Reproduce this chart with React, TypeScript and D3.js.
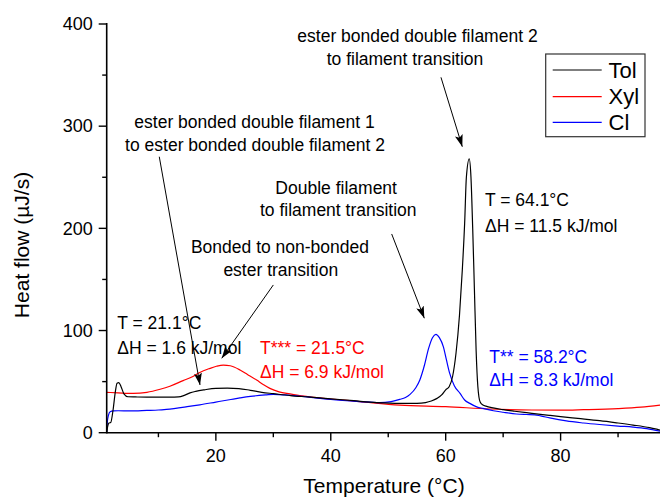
import React from "react";
import * as d3 from "d3";

// ---------- data ----------
const tolTemp = [1.0,1.2,1.4,1.7,2.1,2.5,2.8,3.1,3.5,4.0,4.7,6,8,10,12,13.5,14.5,15.5,16.5,18,20,22,24,26,28,30,33,36,40,44,48,52,55,56.5,57.5,58.5,59.3,60,60.6,61.2,61.8,62.4,62.9,63.3,63.6,64.1,64.4,64.7,65.0,65.3,65.6,66.0,66.5,67,68,70,72,75,78,80,83,86.8,90,92.6,95.5,97.3];
const tolHeat = [0,7,9.5,10,22,40,48.5,49,45,38,35.2,35,34.8,34.8,34.8,35,36.5,39,40.5,42,43.4,43.6,43.2,41.5,39.5,38.2,36.3,35,33.2,31.3,29.5,28.7,28.7,29.5,31,33.6,37,42,45,55,78,115,160,205,250,268,250,200,140,80,45,30,27,26,24.5,22.5,21,19,17,15.7,14,11.8,9.5,7.5,4.9,2.6];

const xylTemp = [1,3,5.6,8,10.3,12,14.3,16,17.2,19,20.1,21.3,22.5,24.2,25.5,27.1,28.3,29.4,31,32.9,35,40,45,52,60,67.7,75,80,84,90,94,97.3];
const xylHeat = [39.5,39,38.5,39.5,42.5,45.5,51,55,59,63,65,66.2,65.5,61.4,57,51.5,47,43.4,40,38,36,33,30.5,27,25.5,23.2,22.2,22,22.5,23.6,25,27];

const clTemp = [1.0,1.1,1.3,1.6,2.2,3,5,8,10,11.4,15,17.2,20,22.6,24.2,26,28.8,30,32,35,40,45,48.5,50.5,52,53,53.8,54.8,55.5,56.3,57,57.7,58.3,58.9,59.6,60.1,60.7,61.5,62.5,63.3,64.2,65.5,66.5,68.3,70,72.3,74,75.5,76.5,78.1,81,84,86.8,90,92.6,95,97.3];
const clHeat = [0,10,17,20.5,21.3,21.5,21.3,21.8,22.2,22.9,25.5,27.3,30,32.5,34,35.5,37,37.5,37,35.5,32.5,30.5,29.4,30.5,32.6,34.5,37.5,44,51.6,66,82,93,96.3,93,84,72,58,46,38.5,32,28.7,25,23.8,21.5,20,18.3,17.8,17.5,16.5,14.5,11.5,9.5,8,6.5,5.5,4,1.5];

const seriesNames = ["Tol", "Xyl", "Cl"];
const seriesColors = ["#000000", "#ff0000", "#0000ff"];

const xMajorTicks = [20, 40, 60, 80];
const xMinorTicks = [10, 30, 50, 70, 90];
const yMajorTicks = [0, 100, 200, 300, 400];
const yMinorTicks = [50, 150, 250, 350];

// text annotations: [temperature, heat flow] anchor in data units
const noteLines = [
  { t: 55.09, v: 382.1, text: "ester bonded double filament 2", anchor: "middle", color: "#000" },
  { t: 52.92, v: 359.9, text: "to filament transition", anchor: "middle", color: "#000" },
  { t: 26.72, v: 298.5, text: "ester bonded double filament 1", anchor: "middle", color: "#000" },
  { t: 26.81, v: 276.0, text: "to ester bonded double filament 2", anchor: "middle", color: "#000" },
  { t: 40.94, v: 233.3, text: "Double filament", anchor: "middle", color: "#000" },
  { t: 41.31, v: 212.1, text: "to filament transition", anchor: "middle", color: "#000" },
  { t: 31.16, v: 176.2, text: "Bonded to non-bonded", anchor: "middle", color: "#000" },
  { t: 31.30, v: 153.7, text: "ester transition", anchor: "middle", color: "#000" },
  { t: 2.84, v: 101.2, text: "T = 21.1°C", anchor: "start", color: "#000" },
  { t: 2.84, v: 77.0, text: "ΔH = 1.6 kJ/mol", anchor: "start", color: "#000" },
  { t: 27.68, v: 77.0, text: "T*** = 21.5°C", anchor: "start", color: "#ff0000" },
  { t: 27.68, v: 53.8, text: "ΔH = 6.9 kJ/mol", anchor: "start", color: "#ff0000" },
  { t: 66.84, v: 221.6, text: "T = 64.1°C", anchor: "start", color: "#000" },
  { t: 66.84, v: 196.7, text: "ΔH = 11.5 kJ/mol", anchor: "start", color: "#000" },
  { t: 67.59, v: 68.5, text: "T** = 58.2°C", anchor: "start", color: "#0000ff" },
  { t: 67.59, v: 45.7, text: "ΔH = 8.3 kJ/mol", anchor: "start", color: "#0000ff" },
];

// arrows: from [t1,v1] to [t2,v2] in data units
const arrows = [
  { t1: 59.18, v1: 347.8, t2: 62.89, v2: 279.9 },
  { t1: 10.15, v1: 270.1, t2: 17.24, v2: 46.7 },
  { t1: 50.6, v1: 194.5, t2: 56.28, v2: 112.0 },
  { t1: 30.0, v1: 144.6, t2: 21.02, v2: 72.8 },
];

const W = 660;
const H = 499;
const FONT = "'Liberation Sans', Arial, Helvetica, sans-serif";

export default function App() {
  const x = d3.scaleLinear().domain([1, 97.3]).range([106.7, 660]);
  const y = d3.scaleLinear().domain([0, 400]).range([432.7, 24]);

  const seriesT = [tolTemp, xylTemp, clTemp];
  const seriesV = [tolHeat, xylHeat, clHeat];

  const line = d3
    .line<[number, number]>()
    .x((d) => x(d[0]))
    .y((d) => y(d[1]))
    .curve(d3.curveMonotoneX);

  const paths = seriesT.map((ts, i) =>
    line(ts.map((t, j) => [t, seriesV[i][j]] as [number, number])) || ""
  );

  const axisY = y(0);
  const axisX = x(1);

  const legendX = 545.7;
  const legendY = 54;
  const legendRowY = [70, 96.7, 122.3];

  return (
    <svg
      width={W}
      height={H}
      style={{ position: "absolute", left: 0, top: 0, background: "#fff" }}
      fontFamily={FONT}
    >
      <defs>
        <marker
          id="arrowhead"
          markerUnits="userSpaceOnUse"
          markerWidth={12}
          markerHeight={8}
          refX={12}
          refY={4}
          orient="auto"
        >
          <path d="M0,0 L12,4 L0,8 L2.5,4 Z" fill="#000" />
        </marker>
        <clipPath id="plotclip">
          <rect x={axisX} y={0} width={W - axisX} height={axisY + 1} />
        </clipPath>
      </defs>
      <rect x={0} y={0} width={W} height={H} fill="#fff" />

      {/* series */}
      <g clipPath="url(#plotclip)">
        {[1, 2, 0].map((i) => (
          <path
            key={i}
            d={paths[i]}
            fill="none"
            stroke={seriesColors[i]}
            strokeWidth={1.2}
            strokeLinejoin="round"
          />
        ))}
      </g>

      {/* axes */}
      <line x1={axisX} x2={W} y1={axisY} y2={axisY} stroke="#000" strokeWidth={1.6} />
      <line x1={axisX} x2={axisX} y1={y(400) - 1} y2={axisY + 0.8} stroke="#000" strokeWidth={1.6} />

      {xMajorTicks.map((t) => (
        <g key={"xm" + t}>
          <line x1={x(t)} x2={x(t)} y1={axisY} y2={axisY + 8} stroke="#000" strokeWidth={1.4} />
          <text x={x(t)} y={461.5} textAnchor="middle" fontSize={18} fill="#000">
            {t}
          </text>
        </g>
      ))}
      {xMinorTicks.map((t) => (
        <line key={"xn" + t} x1={x(t)} x2={x(t)} y1={axisY} y2={axisY + 4.5} stroke="#000" strokeWidth={1.4} />
      ))}
      {yMajorTicks.map((v) => (
        <g key={"ym" + v}>
          <line x1={axisX - 8} x2={axisX} y1={y(v)} y2={y(v)} stroke="#000" strokeWidth={1.4} />
          <text x={92.8} y={y(v) + 6.3} textAnchor="end" fontSize={18} fill="#000">
            {v}
          </text>
        </g>
      ))}
      {yMinorTicks.map((v) => (
        <line key={"yn" + v} x1={axisX - 4.5} x2={axisX} y1={y(v)} y2={y(v)} stroke="#000" strokeWidth={1.4} />
      ))}

      {/* axis titles */}
      <text x={384} y={493} textAnchor="middle" fontSize={21} fill="#000">
        Temperature (°C)
      </text>
      <text
        transform={`translate(29, 245) rotate(-90)`}
        textAnchor="middle"
        fontSize={21}
        fill="#000"
      >
        Heat flow (µJ/s)
      </text>

      {/* annotations */}
      {noteLines.map((n, i) => (
        <text
          key={"n" + i}
          x={x(n.t)}
          y={y(n.v)}
          textAnchor={n.anchor as any}
          fontSize={17.5}
          fill={n.color}
        >
          {n.text}
        </text>
      ))}
      {arrows.map((a, i) => (
        <line
          key={"a" + i}
          x1={x(a.t1)}
          y1={y(a.v1)}
          x2={x(a.t2)}
          y2={y(a.v2)}
          stroke="#000"
          strokeWidth={1}
          markerEnd="url(#arrowhead)"
        />
      ))}

      {/* legend */}
      <rect x={legendX} y={legendY} width={99.3} height={82.7} fill="#fff" stroke="#333" strokeWidth={1.2} />
      {seriesNames.map((name, i) => (
        <g key={name}>
          <line x1={552.7} x2={601.7} y1={legendRowY[i]} y2={legendRowY[i]} stroke={seriesColors[i]} strokeWidth={1.2} />
          <text x={608.5} y={legendRowY[i] + 7.6} fontSize={22} fill="#000">
            {name}
          </text>
        </g>
      ))}
    </svg>
  );
}
